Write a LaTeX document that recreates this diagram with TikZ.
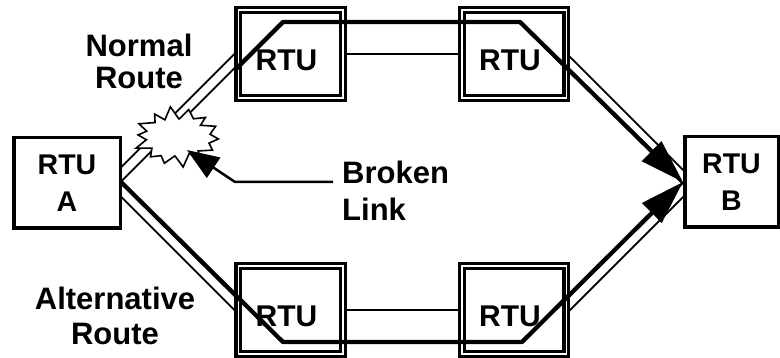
\documentclass[tikz,border=0pt]{standalone}
\usepackage{fontspec}
\setmainfont{Liberation Sans}
\usetikzlibrary{arrows.meta}
\begin{document}
\begin{tikzpicture}[x=1pt,y=-1pt,
  rtubox/.style={draw, double, double distance=1.5pt, line width=3.4pt, fill=white,
    minimum width=104.5pt, minimum height=87.7pt, outer sep=4.15pt, inner sep=0pt},
  endbox/.style={draw, line width=3.5pt, fill=white, align=center,
    font=\fontsize{28.5}{37}\selectfont\bfseries, inner sep=0pt},
  rtutext/.style={font=\fontsize{30}{36}\selectfont\bfseries, inner sep=0pt},
  lbl/.style={inner sep=0pt},
  dlink/.style={draw, double, line width=1.9pt, double distance=8pt},
  slink/.style={draw, line width=2pt},
  route/.style={draw, line width=4.3pt, line join=round, line cap=round,
    -{Triangle[length=44pt,width=27pt]}},
  pointer/.style={draw, line width=2.5pt, -{Triangle[length=32pt,width=24pt]}},
  burststyle/.style={draw, fill=white, line width=1.6pt, line join=miter},
]
\useasboundingbox (0,0) rectangle (780,358);

% physical links (double lines)
\coordinate (l1a) at (110,185.5); \coordinate (l1b) at (250,45.5);
\coordinate (l2a) at (110,178.5); \coordinate (l2b) at (250,318.5);
\coordinate (l3a) at (555,49);    \coordinate (l3b) at (700,194);
\coordinate (l4a) at (555,318);   \coordinate (l4b) at (700,173);
\draw[dlink] (l1a) -- (l1b);
\draw[dlink] (l2a) -- (l2b);
\draw[dlink] (l3a) -- (l3b);
\draw[dlink] (l4a) -- (l4b);

% boxes
\node[endbox, minimum width=106.5pt, minimum height=90.5pt] (A) at (67,183) {RTU\\A};
\node[endbox, minimum width=93.5pt, minimum height=90.5pt] (B) at (731.5,182) {RTU\\B};
\node[rtubox] (TL) at (290.5,54) {};
\node[rtubox] (TR) at (514,54) {};
\node[rtubox] (BL) at (290.5,310) {};
\node[rtubox] (BR) at (514,310) {};

\draw[slink] (TL) -- (TR);
\draw[slink] (BL) -- (BR);

% routes
\coordinate (r1s) at (236.5,68.5); \coordinate (r1a) at (283,22); \coordinate (r1b) at (520,22);
\draw[route] (r1s) -- (r1a) -- (r1b) -- (B.west);
\coordinate (r2a) at (283,342); \coordinate (r2b) at (522,342);
\draw[route] (A.east) -- (r2a) -- (r2b) -- (B.west);

% RTU texts
\node[rtutext] (tlt) at (286.5,60) {RTU};
\node[rtutext] (trt) at (510,60) {RTU};
\node[rtutext] (blt) at (286.5,316) {RTU};
\node[rtutext] (brt) at (510,316) {RTU};

% broken link starburst
\coordinate (burst) at (177,137);
\draw[burststyle, shift={(177,137)}]
  plot[samples at={0,...,27}, variable=\k]
  ({(ifthenelse(mod(\k,2)==0,41.5,31)+2.5*sin(\k*97))*cos(\k*360/28+4)},
   {(ifthenelse(mod(\k,2)==0,28.5,19.5)+2*sin(\k*131))*sin(\k*360/28+4)}) -- cycle;

\node[lbl, align=left, anchor=north west, font=\fontsize{31}{37}\selectfont\bfseries]
  (brk) at (342,161) {Broken\\Link};
\coordinate (bk1) at (333,182); \coordinate (bk2) at (235,182); \coordinate (bktip) at (187,150);
\draw[pointer] (bk1) -- (bk2) -- (bktip);

\node[lbl, align=center, anchor=north, font=\fontsize{31}{32}\selectfont\bfseries]
  (nr) at (139,34) {Normal\\Route};
\node[lbl, align=center, anchor=north, font=\fontsize{31}{35}\selectfont\bfseries]
  (ar) at (115,287) {Alternative\\Route};
\end{tikzpicture}
\end{document}
